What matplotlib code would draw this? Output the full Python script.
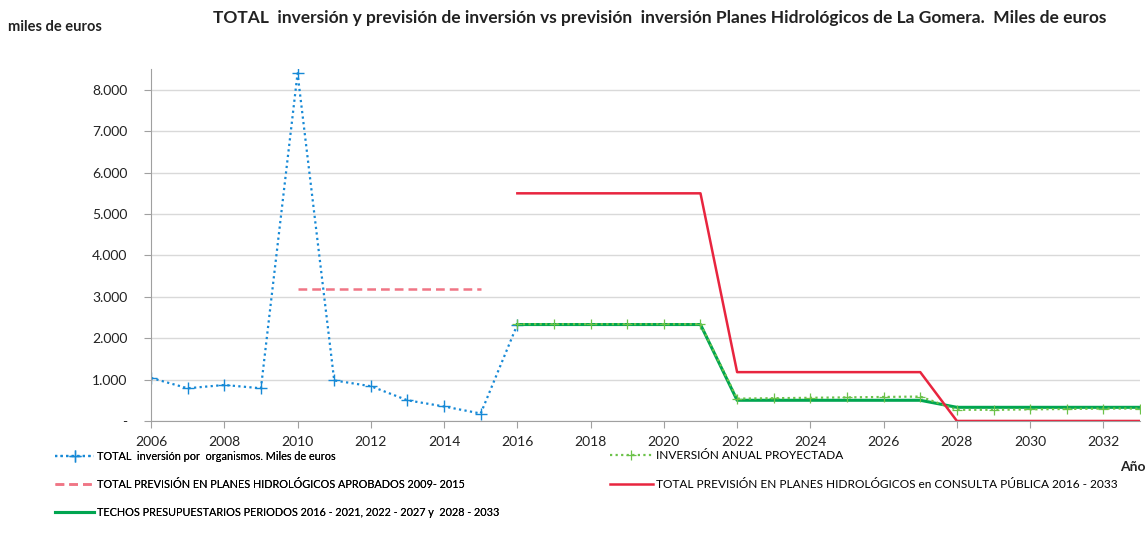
import matplotlib
matplotlib.use("Agg")
import matplotlib.pyplot as plt
from matplotlib.ticker import FuncFormatter

plt.rcParams["font.family"] = ["Lato", "DejaVu Sans"]

# --- data (miles de euros) ---
years_hist = [2006, 2007, 2008, 2009, 2010, 2011, 2012, 2013, 2014, 2015, 2016]
inv_hist = [1040, 790, 870, 790, 8400, 980, 840, 500, 350, 180, 2330]

years_prev_0915 = [2010, 2011, 2012, 2013, 2014, 2015]
prev_0915 = [3200, 3200, 3200, 3200, 3200, 3200]

years_proj = list(range(2016, 2034))
inv_proj = [2340, 2340, 2340, 2340, 2340, 2340,
            540, 550, 560, 570, 580, 590,
            270, 270, 280, 290, 300, 300]
prev_1633 = [5500] * 6 + [1180] * 6 + [0] * 6
techos = [2330] * 6 + [500] * 6 + [330] * 6

fig = plt.figure(figsize=(11.46, 5.48), dpi=100)
ax = fig.add_axes([0.1318, 0.2318, 0.863, 0.642])

l_hist, = ax.plot(years_hist, inv_hist, color="#1689d6", ls=(0, (1, 1.5)), lw=1.6,
                  marker="+", ms=8, mew=1.0,
                  label="TOTAL  inversión por  organismos. Miles de euros")
l_0915, = ax.plot(years_prev_0915, prev_0915, color="#f07585", ls=(0, (3.5, 2)), lw=1.8,
                  label="TOTAL PREVISIÓN EN PLANES HIDROLÓGICOS APROBADOS 2009- 2015")
l_techo, = ax.plot(years_proj, techos, color="#00a550", lw=2.2,
                   label="TECHOS PRESUPUESTARIOS PERIODOS 2016 - 2021, 2022 - 2027 y  2028 - 2033")
l_proj, = ax.plot(years_proj, inv_proj, color="#6cc24a", ls=(0, (1, 1.5)), lw=1.6,
                  marker="+", ms=7, mew=0.9, label="INVERSIÓN ANUAL PROYECTADA")
l_1633, = ax.plot(years_proj, prev_1633, color="#e8253f", lw=1.8,
                  label="TOTAL PREVISIÓN EN PLANES HIDROLÓGICOS en CONSULTA PÚBLICA 2016 - 2033")

ax.set_xlim(2006, 2033)
ax.set_ylim(0, 8500)
ax.set_xticks(range(2006, 2034, 2))
ax.set_yticks(range(0, 8001, 1000))
ax.yaxis.set_major_formatter(FuncFormatter(
    lambda v, p: "-" if v == 0 else f"{int(v):,}".replace(",", ".")))
ax.grid(axis="y", color="#d9d9d9", lw=1)
ax.set_axisbelow(True)
for s in ["top", "right"]:
    ax.spines[s].set_visible(False)
for s in ["left", "bottom"]:
    ax.spines[s].set_color("#a0a0a0")
ax.tick_params(axis="both", colors="#a0a0a0", labelcolor="#222222",
               labelsize=10, length=5)
ax.tick_params(axis="y", pad=12)
ax.tick_params(axis="x", pad=6)

fig.text(0.576, 0.967, "TOTAL  inversión y previsión de inversión vs previsión  inversión "
         "Planes Hidrológicos de La Gomera.  Miles de euros",
         ha="center", va="center", fontsize=12.5, fontweight="bold", color="#222222")
fig.text(0.007, 0.951, "miles de euros", ha="left", va="center",
         fontsize=10.5, fontweight="bold", color="#222222")
fig.text(0.977, 0.148, "Año", ha="left", va="center",
         fontsize=10, fontweight="bold", color="#222222")

leg_kw = dict(loc="upper left", frameon=False, handlelength=3.6,
              handletextpad=0.3, labelspacing=1.55, borderpad=0, borderaxespad=0)
leg1 = fig.legend([l_hist, l_0915, l_techo],
                  [l_hist.get_label(), l_0915.get_label(), l_techo.get_label()],
                  bbox_to_anchor=(0.048, 0.177), fontsize=7.8, **leg_kw)
fig.add_artist(leg1)
fig.legend([l_proj, l_1633], [l_proj.get_label(), l_1633.get_label()],
           bbox_to_anchor=(0.532, 0.179), fontsize=8.6, **leg_kw)

fig.savefig("out.png", dpi=100)
